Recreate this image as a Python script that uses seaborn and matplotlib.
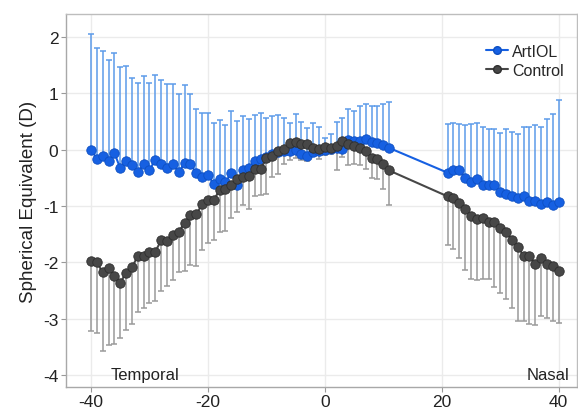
import numpy as np
import pandas as pd
import matplotlib
matplotlib.use("Agg")
import matplotlib.pyplot as plt
import seaborn as sns
from matplotlib.lines import Line2D

# Eccentricity (degrees): temporal side -40..11, nasal side 21..40
ecc = list(range(-40, 12)) + list(range(21, 41))

artiol_mean = [0.00, -0.16, -0.12, -0.20, -0.06, -0.33, -0.20, -0.28, -0.40, -0.26,
               -0.36, -0.18, -0.25, -0.33, -0.25, -0.40, -0.24, -0.25, -0.42, -0.48,
               -0.45, -0.61, -0.53, -0.58, -0.41, -0.63, -0.36, -0.33, -0.20, -0.16,
               -0.13, -0.07, -0.04, -0.02, -0.03, 0.00, -0.08, -0.11, -0.05, -0.02,
               0.00, 0.01, 0.03, 0.02, 0.18, 0.16, 0.16, 0.19, 0.14, 0.11,
               0.08, 0.03,
               -0.41, -0.36, -0.36, -0.50, -0.58, -0.52, -0.63, -0.63, -0.62, -0.75,
               -0.78, -0.83, -0.85, -0.83, -0.92, -0.92, -0.97, -0.93, -0.98, -0.93]

artiol_upper = [2.05, 1.80, 1.75, 1.60, 1.71, 1.46, 1.49, 1.28, 1.18, 1.31,
                1.18, 1.32, 1.23, 1.16, 1.16, 0.99, 1.15, 0.99, 0.73, 0.65,
                0.65, 0.47, 0.52, 0.43, 0.69, 0.50, 0.60, 0.55, 0.62, 0.65,
                0.56, 0.60, 0.62, 0.56, 0.48, 0.63, 0.49, 0.38, 0.48, 0.40,
                0.21, 0.28, 0.49, 0.56, 0.72, 0.68, 0.78, 0.81, 0.77, 0.77,
                0.81, 0.85,
                0.46, 0.48, 0.46, 0.44, 0.46, 0.48, 0.40, 0.37, 0.37, 0.30,
                0.36, 0.31, 0.28, 0.40, 0.40, 0.43, 0.40, 0.55, 0.63, 0.88]

control_mean = [-1.98, -2.00, -2.18, -2.10, -2.24, -2.36, -2.19, -2.09, -1.89, -1.88,
                -1.81, -1.81, -1.61, -1.62, -1.52, -1.46, -1.30, -1.16, -1.15, -0.97,
                -0.90, -0.89, -0.72, -0.69, -0.62, -0.52, -0.48, -0.46, -0.34, -0.35,
                -0.15, -0.12, -0.02, 0.02, 0.11, 0.14, 0.10, 0.10, 0.03, 0.02,
                0.04, 0.03, 0.06, 0.15, 0.10, 0.06, 0.03, -0.02, -0.14, -0.16,
                -0.25, -0.37,
                -0.83, -0.86, -0.95, -1.05, -1.17, -1.23, -1.22, -1.28, -1.29, -1.39,
                -1.46, -1.60, -1.72, -1.89, -1.89, -2.03, -1.92, -2.03, -2.07, -2.15]

control_lower = [-3.22, -3.25, -3.58, -3.46, -3.45, -3.34, -3.21, -3.10, -2.89, -2.82,
                 -2.72, -2.68, -2.51, -2.42, -2.31, -2.18, -2.15, -2.05, -2.06, -1.78,
                 -1.66, -1.60, -1.46, -1.45, -1.21, -1.10, -0.99, -1.05, -0.83, -0.81,
                 -0.78, -0.48, -0.44, -0.26, -0.19, -0.15, -0.19, -0.21, -0.12, -0.16,
                 -0.10, -0.08, -0.36, -0.13, -0.28, -0.26, -0.27, -0.35, -0.50, -0.53,
                 -0.70, -0.99,
                 -1.70, -1.76, -1.92, -2.13, -2.29, -2.32, -2.30, -2.30, -2.44, -2.54,
                 -2.66, -2.82, -3.04, -3.05, -3.09, -3.11, -2.95, -2.99, -3.04, -3.07]

groups = ["ArtIOL", "Control"]
x_ticks = [-40, -20, 0, 20, 40]
y_ticks = [-4, -3, -2, -1, 0, 1, 2]

df = pd.DataFrame({
    "ecc": ecc * 2,
    "SE": artiol_mean + control_mean,
    "group": [groups[0]] * len(ecc) + [groups[1]] * len(ecc),
})

sns.set_theme(style="whitegrid")
plt.rcParams['font.family'] = ['Liberation Sans', 'DejaVu Sans']

fig = plt.figure(figsize=(5.78, 4.14), dpi=100)
ax = fig.add_axes([0.114, 0.062, 0.884, 0.902])

blue = "#1660e2"
blue_err = "#5d9be9"
dark = "#474747"
gray_err = "#9a9a9a"

x = np.array(ecc)
am = np.array(artiol_mean)
cm = np.array(control_mean)

# one-sided error bars
ax.errorbar(x, cm, yerr=[cm - np.array(control_lower), np.zeros_like(cm)],
            fmt='none', ecolor=gray_err, elinewidth=1.1, capsize=2.3, capthick=1.1, zorder=2)
ax.errorbar(x, am, yerr=[np.zeros_like(am), np.array(artiol_upper) - am],
            fmt='none', ecolor=blue_err, elinewidth=1.1, capsize=2.3, capthick=1.1, zorder=2)

sns.lineplot(data=df, x="ecc", y="SE", hue="group", hue_order=groups,
             palette={groups[0]: blue, groups[1]: dark},
             marker="o", markersize=6.8, markeredgewidth=0.6,
             linewidth=1.5, estimator=None, sort=True, ax=ax, zorder=3,
             legend=False)
for ln, ec in zip(ax.lines[-2:], ["#0d4fc2", "#2e2e2e"]):
    ln.set_markeredgecolor(ec)

handles = [Line2D([], [], color=blue, marker='o', markersize=5.5, lw=1.5,
                  markeredgecolor="#0d4fc2"),
           Line2D([], [], color=dark, marker='o', markersize=5.5, lw=1.5,
                  markeredgecolor="#2e2e2e")]
ax.legend(handles, groups, loc="upper right", bbox_to_anchor=(0.975, 0.92),
          frameon=False, fontsize=11.5, handlelength=1.4, handletextpad=0.25,
          labelspacing=0.25, borderpad=0, borderaxespad=0)

ax.set_xlim(-44.3, 43.1)
ax.set_ylim(-4.22, 2.41)
ax.set_xticks(x_ticks)
ax.set_yticks(y_ticks)
ax.set_xticklabels([str(t) for t in x_ticks])
ax.set_yticklabels([str(t) for t in y_ticks])
ax.set_xlabel("")
ax.set_ylabel("Spherical Equivalent (D)", fontsize=13.5, color="#222222", labelpad=4)
ax.tick_params(axis='both', labelsize=12.5, colors="#222222", length=3.5,
               width=0.8, left=True, bottom=True)
ax.tick_params(axis='x', pad=1)
ax.tick_params(axis='y', pad=2)
ax.tick_params(axis='both', color="#999999")
ax.grid(True, color="#ebebeb", linewidth=1.0)
for s in ax.spines.values():
    s.set_color("#bdbdbd")
    s.set_linewidth(1.0)
ax.spines['left'].set_color("#a8a8a8")
ax.spines['bottom'].set_color("#a8a8a8")

ax.text(-36.7, -4.0, "Temporal", ha="left", va="center", fontsize=12, color="#222222")
ax.text(41.8, -4.0, "Nasal", ha="right", va="center", fontsize=12, color="#222222")

fig.savefig("out.png", dpi=100)
